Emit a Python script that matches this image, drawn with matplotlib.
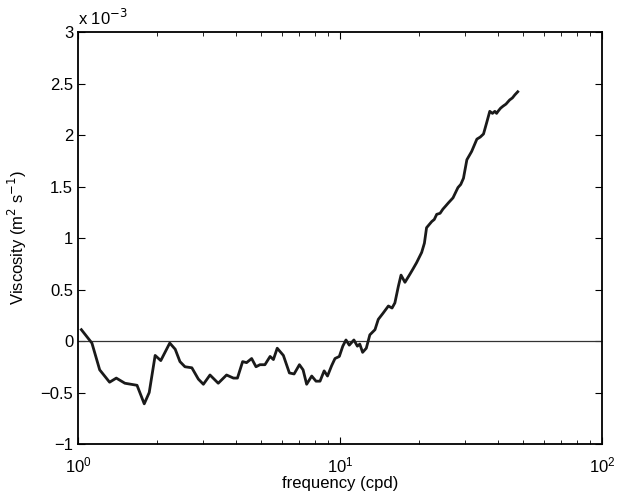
import numpy as np
import matplotlib.pyplot as plt
from matplotlib.ticker import LogLocator, FixedLocator

plt.rcParams['font.family'] = ['Liberation Sans', 'DejaVu Sans']

# frequency (cpd) and viscosity (x 1e-3 m^2 s^-1)
freq = [1.03, 1.13, 1.21, 1.32, 1.40, 1.51, 1.68, 1.79, 1.87, 1.97, 2.07,
        2.24, 2.35, 2.45, 2.56, 2.72, 2.88, 3.01, 3.19, 3.43, 3.69, 3.92,
        4.06, 4.25, 4.40, 4.60, 4.78, 4.95, 5.17, 5.41, 5.57, 5.76, 6.08,
        6.41, 6.68, 7.00, 7.23, 7.46, 7.80, 8.10, 8.39, 8.70, 8.96, 9.29,
        9.57, 9.94, 10.25, 10.54, 10.85, 11.3, 11.65, 11.9, 12.2, 12.6,
        13.0, 13.6, 14.0, 14.6, 15.3, 15.8, 16.2, 16.7, 17.1, 17.7, 18.5,
        19.0, 19.6, 20.5, 21.0, 21.4, 22.4, 22.9, 23.4, 24.1, 24.7, 25.3,
        25.9, 27.0, 28.2, 28.9, 29.6, 30.5, 31.8, 33.3, 34.3, 35.3, 36.3,
        37.3, 38.2, 39.0, 39.6, 40.1, 41.0, 41.9, 43.0, 44.4, 45.5, 46.5,
        47.7]
visc = [0.11, -0.02, -0.28, -0.40, -0.36, -0.41, -0.43, -0.61, -0.50,
        -0.14, -0.19, -0.02, -0.08, -0.20, -0.25, -0.26, -0.37, -0.42,
        -0.33, -0.41, -0.33, -0.36, -0.36, -0.20, -0.21, -0.17, -0.25,
        -0.23, -0.23, -0.15, -0.18, -0.07, -0.14, -0.31, -0.32, -0.23,
        -0.28, -0.42, -0.34, -0.39, -0.39, -0.29, -0.34, -0.24, -0.17,
        -0.15, -0.05, 0.01, -0.04, 0.01, -0.05, -0.03, -0.11, -0.07,
        0.06, 0.11, 0.21, 0.27, 0.34, 0.32, 0.37, 0.53, 0.64, 0.57, 0.65,
        0.70, 0.76, 0.86, 0.95, 1.10, 1.16, 1.18, 1.23, 1.24, 1.28, 1.31,
        1.34, 1.39, 1.49, 1.52, 1.58, 1.76, 1.84, 1.96, 1.98, 2.01, 2.12,
        2.23, 2.21, 2.23, 2.21, 2.23, 2.26, 2.28, 2.30, 2.34, 2.36, 2.39,
        2.42]

fig = plt.figure(figsize=(6.27, 4.94), dpi=100)
ax = fig.add_axes([0.1244, 0.1012, 0.8357, 0.8340])

ax.axhline(0, color='#333333', lw=0.9)
ax.plot(freq, visc, color='#1a1a1a', lw=2.0)

ax.set_xscale('log')
ax.set_xlim(1, 100)
ax.set_ylim(-1, 3)
ax.yaxis.set_major_locator(FixedLocator([-1, -0.5, 0, 0.5, 1, 1.5, 2, 2.5, 3]))
ax.set_yticklabels(['\u22121', '\u22120.5', '0', '0.5', '1', '1.5', '2', '2.5', '3'])
ax.xaxis.set_major_locator(LogLocator(base=10, numticks=5))
ax.xaxis.set_minor_locator(LogLocator(base=10, subs=np.arange(2, 10), numticks=20))

ax.tick_params(which='both', direction='in', top=True, right=True, labelsize=12)
ax.tick_params(which='major', length=5, width=0.8)
ax.tick_params(which='minor', length=3, width=0.6)
ax.tick_params(axis='x', which='major', pad=8)
for s in ax.spines.values():
    s.set_linewidth(1.3)

ax.set_xlabel('frequency (cpd)', fontsize=12, labelpad=1)
ax.set_ylabel('Viscosity (m$^2$ s$^{-1}$)', fontsize=12, labelpad=8)
ax.text(0.0, 1.01, 'x 10$^{-3}$', transform=ax.transAxes, fontsize=12,
        ha='left', va='bottom')

fig.savefig('out.png', dpi=100)
